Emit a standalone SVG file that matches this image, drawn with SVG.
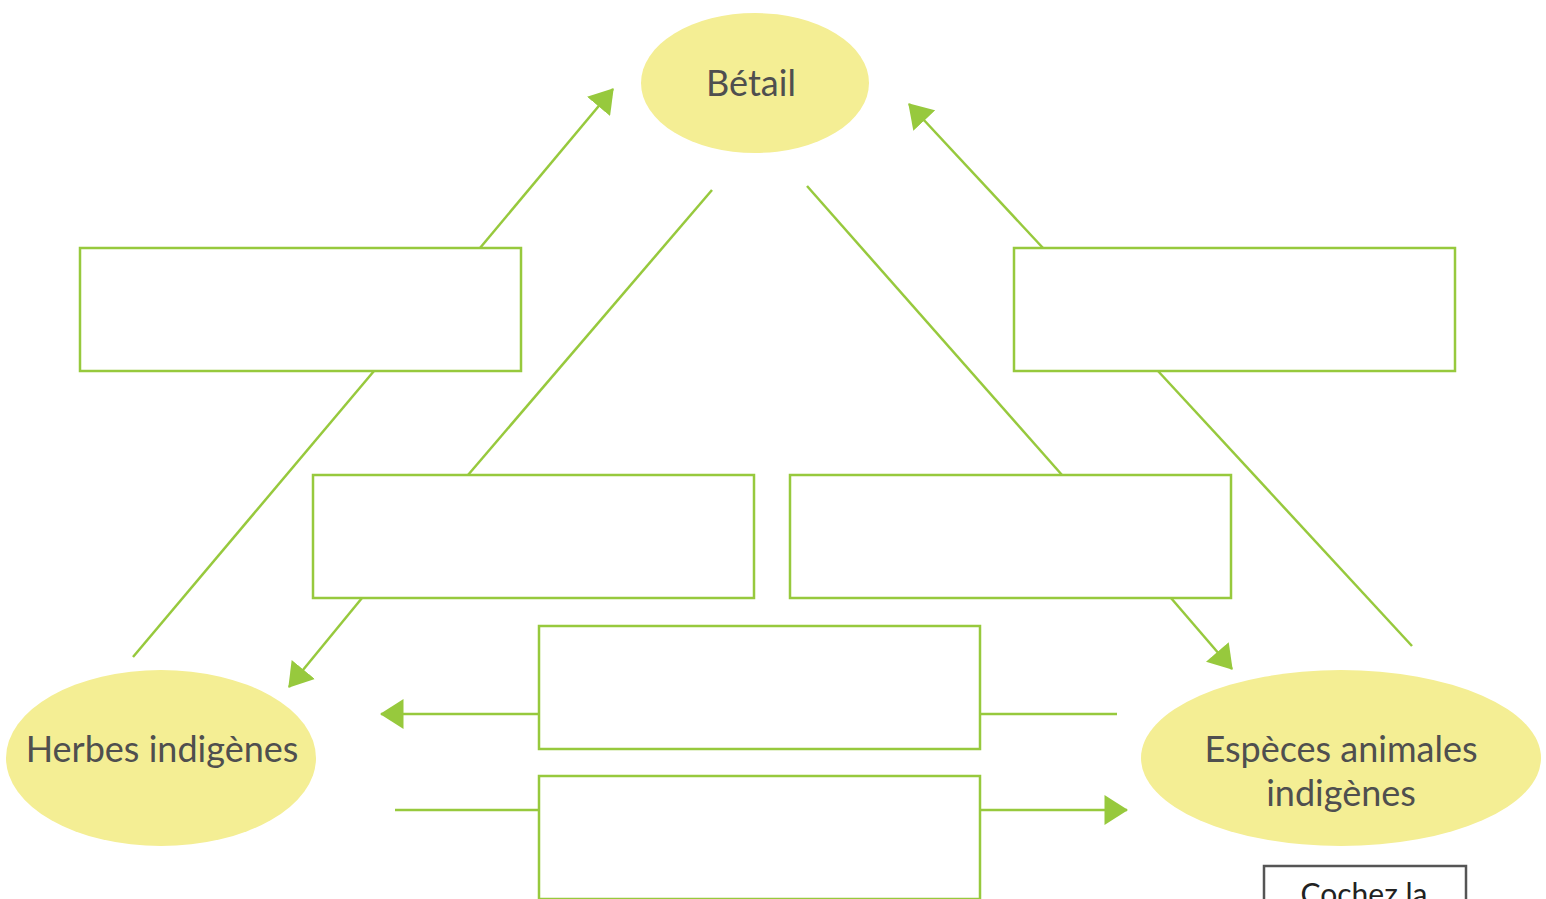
<svg xmlns="http://www.w3.org/2000/svg" width="1546" height="899" viewBox="0 0 1546 899">
<style>
.n{fill:#f4ee94;stroke:none}
.t{font-family:Lato,"Open Sans",sans-serif;font-size:36px;fill:#4f4f4f;text-anchor:middle}
.b{fill:#fff;stroke:#97c93d;stroke-width:2.5}
.c{stroke:#97c93d;stroke-width:2.5;fill:none}
</style>
<defs>
<marker id="a" markerUnits="userSpaceOnUse" markerWidth="24" markerHeight="30" viewBox="0 0 22 28" refX="21" refY="14" orient="auto">
<path d="M0,0 L22,14 L0,28 z" fill="#97c93d"/>
</marker>
</defs>
<rect width="1546" height="899" fill="#fff"/>
<g id="connectors">
<line class="c" x1="480" y1="248" x2="613" y2="89" marker-end="url(#a)"/>
<line class="c" x1="1043" y1="248" x2="909" y2="104" marker-end="url(#a)"/>
<line class="c" x1="712" y1="190" x2="468" y2="475"/>
<line class="c" x1="807" y1="186" x2="1062" y2="475"/>
<line class="c" x1="374" y1="371" x2="133" y2="657"/>
<line class="c" x1="1158" y1="371" x2="1412" y2="646"/>
<line class="c" x1="362" y1="598" x2="289" y2="687" marker-end="url(#a)"/>
<line class="c" x1="1171" y1="598" x2="1232" y2="669" marker-end="url(#a)"/>
<line class="c" x1="539" y1="714" x2="381" y2="714" marker-end="url(#a)"/>
<line class="c" x1="980" y1="714" x2="1117" y2="714"/>
<line class="c" x1="395" y1="810" x2="539" y2="810"/>
<line class="c" x1="980" y1="810" x2="1127" y2="810" marker-end="url(#a)"/>
</g>
<g id="betail"><ellipse class="n" cx="755" cy="83" rx="114" ry="70"/><text class="t" x="751" y="96">Bétail</text></g>
<g id="herbes"><ellipse class="n" cx="161" cy="758" rx="155" ry="88"/><text class="t" x="162" y="762">Herbes indigènes</text></g>
<g id="especes"><ellipse class="n" cx="1341" cy="758" rx="200" ry="88"/><text class="t" x="1341" y="762">Espèces animales</text><text class="t" x="1341" y="806">indigènes</text></g>
<g id="box1"><rect class="b" x="80" y="248" width="441" height="123"/></g>
<g id="box2"><rect class="b" x="1014" y="248" width="441" height="123"/></g>
<g id="box3"><rect class="b" x="313" y="475" width="441" height="123"/></g>
<g id="box4"><rect class="b" x="790" y="475" width="441" height="123"/></g>
<g id="box5"><rect class="b" x="539" y="626" width="441" height="123"/></g>
<g id="box6"><rect class="b" x="539" y="776" width="441" height="123"/></g>
<g id="cochez"><rect x="1264" y="866" width="202" height="60" fill="#fff" stroke="#555" stroke-width="2.5"/><text x="1364" y="905" font-family="Lato,'Open Sans',sans-serif" font-size="30" fill="#222" text-anchor="middle">Cochez la</text></g>
</svg>
